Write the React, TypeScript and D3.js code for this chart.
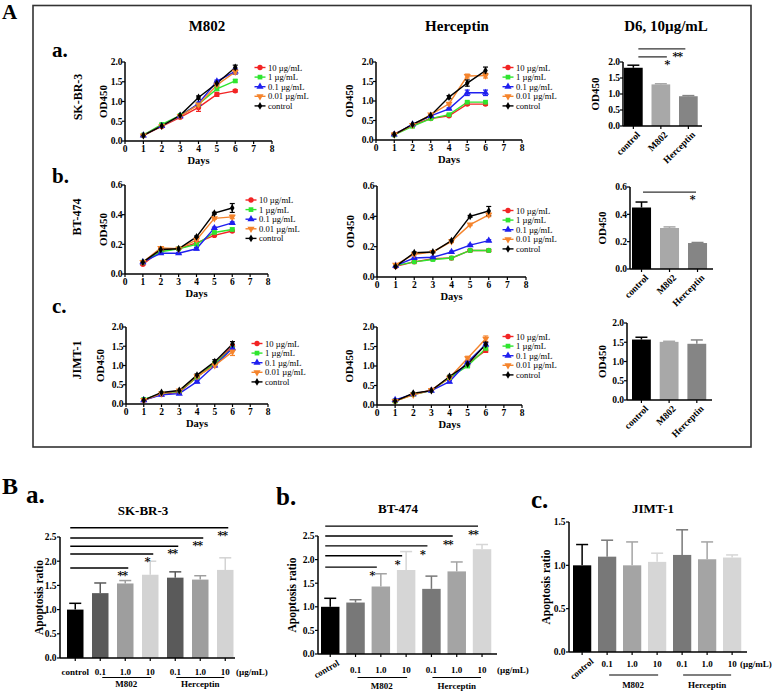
import React from 'react';
import * as d3 from 'd3';

const FONT = "'Liberation Serif', 'Times New Roman', Times, serif";

// ---------- Panel A : proliferation (OD450 vs days) ----------
const days = [1, 2, 3, 4, 5, 6];
const dayTicks = [0, 1, 2, 3, 4, 5, 6, 7, 8];
const doseLabels = ['10 µg/mL', '1 µg/mL', '0.1 µg/mL', '0.01 µg/mL', 'control'];
const doseColors = ['#f22424', '#2fe52f', '#1f1fef', '#f5842c', '#000000'];
const doseSymbols = [d3.symbolCircle, d3.symbolSquare, d3.symbolTriangle, d3.symbolTriangle, d3.symbolDiamond];
const doseSymbolRot = [0, 0, 0, 180, 0];

// order of series: 10, 1, 0.1, 0.01 µg/mL, control
const skbr3M802 = [
  [0.14, 0.37, 0.60, 0.85, 1.18, 1.27],
  [0.15, 0.42, 0.65, 0.93, 1.32, 1.52],
  [0.14, 0.38, 0.63, 0.95, 1.51, 1.76],
  [0.14, 0.38, 0.63, 0.92, 1.42, 1.75],
  [0.14, 0.38, 0.65, 1.10, 1.46, 1.86],
];
const skbr3M802Err = [
  [0.02, 0.02, 0.02, 0.10, 0.05, 0.03],
  [0.02, 0.02, 0.02, 0.03, 0.04, 0.03],
  [0.02, 0.02, 0.02, 0.03, 0.03, 0.07],
  [0.02, 0.02, 0.02, 0.03, 0.04, 0.05],
  [0.02, 0.02, 0.02, 0.04, 0.04, 0.06],
];
const skbr3Her = [
  [0.15, 0.38, 0.55, 0.62, 0.92, 0.92],
  [0.13, 0.35, 0.55, 0.65, 0.97, 0.97],
  [0.14, 0.40, 0.62, 0.80, 1.21, 1.21],
  [0.14, 0.38, 0.65, 0.93, 1.64, 1.65],
  [0.14, 0.40, 0.63, 1.10, 1.46, 1.78],
];
const skbr3HerErr = [
  [0.02, 0.02, 0.02, 0.02, 0.03, 0.03],
  [0.02, 0.02, 0.02, 0.02, 0.03, 0.03],
  [0.02, 0.02, 0.02, 0.02, 0.07, 0.07],
  [0.02, 0.02, 0.02, 0.03, 0.05, 0.06],
  [0.02, 0.02, 0.02, 0.04, 0.08, 0.09],
];
const bt474M802 = [
  [0.065, 0.16, 0.17, 0.21, 0.26, 0.29],
  [0.08, 0.15, 0.17, 0.20, 0.28, 0.30],
  [0.08, 0.14, 0.14, 0.17, 0.31, 0.345],
  [0.08, 0.175, 0.17, 0.23, 0.375, 0.385],
  [0.08, 0.165, 0.17, 0.25, 0.41, 0.445],
];
const bt474M802Err = [
  [0.005, 0.005, 0.005, 0.005, 0.006, 0.006],
  [0.005, 0.005, 0.005, 0.005, 0.008, 0.01],
  [0.005, 0.005, 0.005, 0.008, 0.006, 0.006],
  [0.005, 0.005, 0.005, 0.008, 0.006, 0.012],
  [0.005, 0.005, 0.005, 0.006, 0.006, 0.03],
];
const bt474Her = [
  [0.07, 0.10, 0.12, 0.125, 0.175, 0.175],
  [0.075, 0.10, 0.115, 0.125, 0.175, 0.175],
  [0.075, 0.125, 0.13, 0.165, 0.21, 0.24],
  [0.08, 0.15, 0.165, 0.235, 0.345, 0.41],
  [0.07, 0.16, 0.165, 0.24, 0.40, 0.435],
];
const bt474HerErr = [
  [0.005, 0.005, 0.005, 0.005, 0.006, 0.006],
  [0.005, 0.005, 0.005, 0.005, 0.006, 0.008],
  [0.005, 0.005, 0.005, 0.005, 0.006, 0.006],
  [0.005, 0.005, 0.005, 0.008, 0.006, 0.012],
  [0.005, 0.005, 0.005, 0.006, 0.006, 0.03],
];
const jimtM802 = [
  [0.10, 0.25, 0.30, 0.70, 1.05, 1.50],
  [0.12, 0.27, 0.33, 0.70, 1.05, 1.45],
  [0.10, 0.24, 0.27, 0.58, 1.00, 1.45],
  [0.10, 0.27, 0.35, 0.72, 1.00, 1.36],
  [0.10, 0.30, 0.35, 0.75, 1.10, 1.56],
];
const jimtM802Err = [
  [0.02, 0.02, 0.02, 0.03, 0.04, 0.04],
  [0.02, 0.02, 0.02, 0.03, 0.04, 0.04],
  [0.02, 0.02, 0.02, 0.03, 0.04, 0.05],
  [0.02, 0.02, 0.02, 0.03, 0.04, 0.10],
  [0.02, 0.02, 0.02, 0.03, 0.05, 0.06],
];
const jimtHer = [
  [0.10, 0.28, 0.38, 0.70, 1.05, 1.40],
  [0.10, 0.27, 0.37, 0.70, 1.00, 1.45],
  [0.13, 0.28, 0.37, 0.60, 1.10, 1.55],
  [0.10, 0.26, 0.38, 0.70, 1.20, 1.70],
  [0.10, 0.30, 0.37, 0.73, 1.05, 1.55],
];
const jimtHerErr = [
  [0.02, 0.02, 0.02, 0.03, 0.04, 0.05],
  [0.02, 0.02, 0.02, 0.03, 0.04, 0.04],
  [0.02, 0.02, 0.02, 0.03, 0.04, 0.04],
  [0.02, 0.02, 0.02, 0.03, 0.05, 0.07],
  [0.02, 0.02, 0.02, 0.03, 0.05, 0.06],
];

// D6, 10 µg/mL bars
const d6Cats = ['control', 'M802', 'Herceptin'];
const d6Colors = ['#000000', '#a8a8a8', '#858585'];
const skbr3D6 = [1.82, 1.30, 0.93];
const skbr3D6Err = [0.08, 0.02, 0.02];
const bt474D6 = [0.45, 0.30, 0.19];
const bt474D6Err = [0.04, 0.008, 0.004];
const jimtD6 = [1.57, 1.51, 1.46];
const jimtD6Err = [0.06, 0.015, 0.10];
const yTicks2 = [0, 0.5, 1.0, 1.5, 2.0];
const yTicks06 = [0, 0.2, 0.4, 0.6];

// ---------- Panel B : apoptosis ratio ----------
const apoCats = ['control', 'M0.1', 'M1.0', 'M10', 'H0.1', 'H1.0', 'H10'];
const apoTickLabels = ['control', '0.1', '1.0', '10', '0.1', '1.0', '10'];
const skbr3Apo = [1.00, 1.34, 1.54, 1.72, 1.66, 1.62, 1.82];
const skbr3ApoErr = [0.13, 0.21, 0.06, 0.28, 0.12, 0.08, 0.25];
const bt474Apo = [1.00, 1.09, 1.43, 1.78, 1.38, 1.75, 2.22];
const bt474ApoErr = [0.18, 0.06, 0.27, 0.39, 0.27, 0.20, 0.10];
const jimtApo = [1.00, 1.10, 1.00, 1.04, 1.12, 1.07, 1.09];
const jimtApoErr = [0.24, 0.19, 0.27, 0.10, 0.29, 0.20, 0.03];
const skbr3SigTargets = [6, 5, 4, 3, 2];
const skbr3SigLevels = [2.69, 2.48, 2.31, 2.15, 1.86];
const skbr3SigLabels = ['**', '**', '**', '*', '**'];
const bt474SigTargets = [6, 5, 4, 3, 2];
const bt474SigLevels = [2.71, 2.50, 2.29, 2.08, 1.84];
const bt474SigLabels = ['**', '**', '*', '*', '*'];
const apoTicks25 = [0, 0.5, 1.0, 1.5, 2.0, 2.5];
const apoTicks15 = [0, 0.5, 1.0, 1.5];

const fmt1 = d3.format('.1f');

const Sym = ({ s, cx, cy }: any) => {
  const d = d3.symbol().type(doseSymbols[s]).size(s === 4 ? 18 : 22)() as string;
  return <path d={d} fill={doseColors[s]} transform={`translate(${cx},${cy}) rotate(${doseSymbolRot[s]})`} />;
};

const LineChart = ({ left, right, top, bottom, yMax, yTicks, data, err, ylabelX, legX, legY, legStep = 9.6 }: any) => {
  const x = d3.scaleLinear().domain([0, 8]).range([left, right]);
  const y = d3.scaleLinear().domain([0, yMax]).range([bottom, top]);
  const line = d3.line<number>().x((_, i) => x(days[i])).y((d) => y(d));
  const order = [0, 1, 2, 3, 4];
  return (
    <g fontFamily={FONT}>
      {order.map((s) => (
        <path key={'l' + s} d={line(data[s]) as string} fill="none" stroke={doseColors[s]} strokeWidth={1.4} />
      ))}
      {order.map((s) =>
        data[s].map((v: number, i: number) => {
          const e = err[s][i];
          const cx = x(days[i]);
          return (
            <g key={'e' + s + i} stroke={doseColors[s]} strokeWidth={1.2}>
              <line x1={cx} x2={cx} y1={y(v - e)} y2={y(v + e)} />
              <line x1={cx - 2.5} x2={cx + 2.5} y1={y(v + e)} y2={y(v + e)} />
              <line x1={cx - 2.5} x2={cx + 2.5} y1={y(v - e)} y2={y(v - e)} />
            </g>
          );
        })
      )}
      {order.map((s) => data[s].map((v: number, i: number) => <Sym key={'m' + s + i} s={s} cx={x(days[i])} cy={y(v)} />))}
      <line x1={left} x2={left} y1={top} y2={bottom} stroke="#000" strokeWidth={1.5} />
      <line x1={left} x2={right} y1={bottom} y2={bottom} stroke="#000" strokeWidth={1.5} />
      {yTicks.map((t: number) => (
        <g key={'yt' + t}>
          <line x1={left - 3} x2={left} y1={y(t)} y2={y(t)} stroke="#000" strokeWidth={1.2} />
          <text x={left - 2.5} y={y(t) + 3.3} fontSize={9.5} fontWeight="bold" textAnchor="end">{fmt1(t)}</text>
        </g>
      ))}
      {dayTicks.map((t) => (
        <g key={'xt' + t}>
          <line x1={x(t)} x2={x(t)} y1={bottom} y2={bottom + 3} stroke="#000" strokeWidth={1.2} />
          <text x={x(t)} y={bottom + 10.5} fontSize={9.5} fontWeight="bold" textAnchor="middle">{t}</text>
        </g>
      ))}
      <text x={(left + right) / 2} y={bottom + 23} fontSize={10.5} fontWeight="bold" textAnchor="middle">Days</text>
      <text transform={`translate(${ylabelX},${(top + bottom) / 2}) rotate(-90)`} fontSize={11} fontWeight="bold" textAnchor="middle" dy="0.35em">OD450</text>
      {doseLabels.map((lab, s) => {
        const ly = legY + s * legStep;
        return (
          <g key={'lg' + s}>
            <line x1={legX - 5.5} x2={legX + 5.5} y1={ly} y2={ly} stroke={doseColors[s]} strokeWidth={1.4} />
            <Sym s={s} cx={legX} cy={ly} />
            <text x={legX + 8} y={ly + 3} fontSize={8.6}>{lab}</text>
          </g>
        );
      })}
    </g>
  );
};

const Star = ({ x, y, label }: any) => (
  <text x={x} y={y} fontSize={11} fontWeight="bold" fontFamily="'DejaVu Serif', serif" fill="#000" textAnchor="middle" letterSpacing={-1}>{label}</text>
);

const D6Bar = ({ axisX, right, top, bottom, yMax, yTicks, vals, errs, bandStart, step, ylabelX, sigs = [] }: any) => {
  const pad = 0.32;
  const xb = d3.scaleBand<string>().domain(d6Cats).range([bandStart, bandStart + step * (3 - pad)]).paddingInner(pad).paddingOuter(0);
  const y = d3.scaleLinear().domain([0, yMax]).range([bottom, top]);
  const bw = xb.bandwidth();
  const cx = (i: number) => (xb(d6Cats[i]) as number) + bw / 2;
  return (
    <g fontFamily={FONT}>
      {vals.map((v: number, i: number) => (
        <g key={'b' + i}>
          <rect x={xb(d6Cats[i])} y={y(v)} width={bw} height={bottom - y(v)} fill={d6Colors[i]} />
          <line x1={cx(i)} x2={cx(i)} y1={y(v)} y2={y(v + errs[i])} stroke={d6Colors[i]} strokeWidth={1.5} />
          <line x1={cx(i) - 6} x2={cx(i) + 6} y1={y(v + errs[i])} y2={y(v + errs[i])} stroke={d6Colors[i]} strokeWidth={1.5} />
        </g>
      ))}
      <line x1={axisX} x2={axisX} y1={top} y2={bottom} stroke="#000" strokeWidth={1.5} />
      <line x1={axisX} x2={right} y1={bottom} y2={bottom} stroke="#000" strokeWidth={1.5} />
      {yTicks.map((t: number) => (
        <g key={'yt' + t}>
          <line x1={axisX - 3} x2={axisX} y1={y(t)} y2={y(t)} stroke="#000" strokeWidth={1.2} />
          <text x={axisX - 3} y={y(t) + 3.3} fontSize={9.5} fontWeight="bold" textAnchor="end">{fmt1(t)}</text>
        </g>
      ))}
      {d6Cats.map((c, i) => (
        <g key={'xt' + i}>
          <line x1={cx(i)} x2={cx(i)} y1={bottom} y2={bottom + 3} stroke="#000" strokeWidth={1.2} />
          <text transform={`translate(${cx(i) + 5},${bottom + 7}) rotate(-45)`} fontSize={9.5} fontWeight="bold" textAnchor="end" dy="0.35em">{c}</text>
        </g>
      ))}
      <text transform={`translate(${ylabelX},${(top + bottom) / 2}) rotate(-90)`} fontSize={11} fontWeight="bold" textAnchor="middle" dy="0.35em">OD450</text>
      {sigs.map((sg: any, k: number) => (
        <g key={'sg' + k}>
          <line x1={cx(0) + sg.d0} x2={cx(sg.to) + sg.d1} y1={y(sg.level)} y2={y(sg.level)} stroke="#333" strokeWidth={1.3} />
          <Star x={cx(sg.to) + sg.d1 + sg.ds} y={y(sg.level) + 11} label={sg.label} />
        </g>
      ))}
    </g>
  );
};

const ApoChart = ({ axisX, right, top, bottom, yMax, yTicks, vals, errs, colors, bandStart, step, pad, ylabelX, labelY, ctrlRot, ctrlDx, ctrlDy, unitX, groupLineY, groupLabelY, sigTargets = [], sigLevels = [], sigLabels = [], sigD0 = -5, sigD1 = 0, sigDs = -6, sigDy = 11 }: any) => {
  const xb = d3.scaleBand<string>().domain(apoCats).range([bandStart, bandStart + step * (7 - pad)]).paddingInner(pad).paddingOuter(0);
  const y = d3.scaleLinear().domain([0, yMax]).range([bottom, top]);
  const bw = xb.bandwidth();
  const cx = (i: number) => (xb(apoCats[i]) as number) + bw / 2;
  return (
    <g fontFamily={FONT}>
      {vals.map((v: number, i: number) => (
        <g key={'b' + i}>
          <rect x={xb(apoCats[i])} y={y(v)} width={bw} height={bottom - y(v)} fill={colors[i]} />
          <line x1={cx(i)} x2={cx(i)} y1={y(v)} y2={y(v + errs[i])} stroke={colors[i]} strokeWidth={1.5} />
          <line x1={cx(i) - 6} x2={cx(i) + 6} y1={y(v + errs[i])} y2={y(v + errs[i])} stroke={colors[i]} strokeWidth={1.5} />
        </g>
      ))}
      <line x1={axisX} x2={axisX} y1={top} y2={bottom} stroke="#000" strokeWidth={1.5} />
      <line x1={axisX} x2={right} y1={bottom} y2={bottom} stroke="#000" strokeWidth={1.5} />
      {yTicks.map((t: number) => (
        <g key={'yt' + t}>
          <line x1={axisX - 3} x2={axisX} y1={y(t)} y2={y(t)} stroke="#000" strokeWidth={1.2} />
          <text x={axisX - 3.5} y={y(t) + 3.3} fontSize={9.5} fontWeight="bold" textAnchor="end">{fmt1(t)}</text>
        </g>
      ))}
      {apoTickLabels.map((c, i) => (
        <g key={'xt' + i}>
          <line x1={cx(i)} x2={cx(i)} y1={bottom} y2={bottom + 3} stroke="#000" strokeWidth={1.2} />
          {i === 0 && ctrlRot !== 0 ? (
            <text transform={`translate(${cx(i) + ctrlDx},${bottom + ctrlDy}) rotate(${ctrlRot})`} fontSize={9} fontWeight="bold" textAnchor="end" dy="0.35em">{c}</text>
          ) : (
            <text x={cx(i)} y={labelY} fontSize={9} fontWeight="bold" textAnchor="middle">{c}</text>
          )}
        </g>
      ))}
      <text x={unitX} y={labelY} fontSize={9} fontWeight="bold">(µg/mL)</text>
      <line x1={cx(1) + 2} x2={cx(3) + 1} y1={groupLineY} y2={groupLineY} stroke="#000" strokeWidth={1.2} />
      <line x1={cx(4) + 1} x2={cx(6) - 1} y1={groupLineY} y2={groupLineY} stroke="#000" strokeWidth={1.2} />
      <text x={(cx(1) + cx(3)) / 2 + 1} y={groupLabelY} fontSize={9} fontWeight="bold" textAnchor="middle">M802</text>
      <text x={(cx(4) + cx(6)) / 2} y={groupLabelY} fontSize={9} fontWeight="bold" textAnchor="middle">Herceptin</text>
      <text transform={`translate(${ylabelX},${(top + bottom) / 2}) rotate(-90)`} fontSize={11.5} fontWeight="bold" textAnchor="middle" dy="0.35em">Apoptosis ratio</text>
      {sigTargets.map((t: number, k: number) => (
        <g key={'sg' + k}>
          <line x1={cx(0) + sigD0} x2={cx(t) + sigD1} y1={y(sigLevels[k])} y2={y(sigLevels[k])} stroke="#000" strokeWidth={1.4} />
          <Star x={cx(t) + sigD1 + sigDs} y={y(sigLevels[k]) + sigDy} label={sigLabels[k]} />
        </g>
      ))}
    </g>
  );
};

export default function App() {
  const apoColorsA = ['#000000', '#5a5a5a', '#9e9e9e', '#d3d3d3', '#5a5a5a', '#9e9e9e', '#d3d3d3'];
  const apoColorsB = ['#000000', '#787878', '#a4a4a4', '#d6d6d6', '#787878', '#a4a4a4', '#d6d6d6'];
  return (
    <svg width={778} height={691} style={{ position: 'absolute', left: 0, top: 0, background: '#fff' }} fontFamily={FONT}>
      <rect x={0} y={0} width={778} height={691} fill="#fff" />
      {/* Panel A frame & headers */}
      <rect x={33} y={5.5} width={718} height={441.5} fill="none" stroke="#333" strokeWidth={1.6} />
      <text x={2} y={19} fontSize={21} fontWeight="bold">A</text>
      <text x={207} y={31} fontSize={15} fontWeight="bold" textAnchor="middle">M802</text>
      <text x={457} y={31} fontSize={15} fontWeight="bold" textAnchor="middle">Herceptin</text>
      <text x={666} y={31} fontSize={15} fontWeight="bold" textAnchor="middle">D6, 10µg/mL</text>
      <text x={52} y={57} fontSize={21} fontWeight="bold">a.</text>
      <text x={52} y={183} fontSize={21} fontWeight="bold">b.</text>
      <text x={52} y={313} fontSize={21} fontWeight="bold">c.</text>
      <text transform="translate(78,97) rotate(-90)" fontSize={12} fontWeight="bold" textAnchor="middle" dy="0.35em">SK-BR-3</text>
      <text transform="translate(77,217) rotate(-90)" fontSize={12} fontWeight="bold" textAnchor="middle" dy="0.35em">BT-474</text>
      <text transform="translate(77,360) rotate(-90)" fontSize={12} fontWeight="bold" textAnchor="middle" dy="0.35em">JIMT-1</text>

      <LineChart left={125} right={272} top={62} bottom={141} yMax={2} yTicks={yTicks2} data={skbr3M802} err={skbr3M802Err} ylabelX={103.5} legX={260} legY={67.5} />
      <LineChart left={376} right={522} top={62} bottom={140} yMax={2} yTicks={yTicks2} data={skbr3Her} err={skbr3HerErr} ylabelX={349} legX={508} legY={67.5} />
      <D6Bar axisX={623} right={702} top={62} bottom={126} yMax={2} yTicks={yTicks2} vals={skbr3D6} errs={skbr3D6Err} bandStart={624} step={27.5} ylabelX={595}
        sigs={[{ to: 2, level: 2.41, label: '**', d0: 5, d1: -3, ds: -8 }, { to: 1, level: 2.16, label: '*', d0: 5, d1: 6, ds: 0 }]} />

      <LineChart left={125} right={268} top={185} bottom={274} yMax={0.6} yTicks={yTicks06} data={bt474M802} err={bt474M802Err} ylabelX={103.5} legX={251} legY={200} />
      <LineChart left={377} right={526} top={186} bottom={277} yMax={0.6} yTicks={yTicks06} data={bt474Her} err={bt474HerErr} ylabelX={350} legX={508} legY={210.5} />
      <D6Bar axisX={630} right={713} top={187} bottom={269} yMax={0.6} yTicks={yTicks06} vals={bt474D6} errs={bt474D6Err} bandStart={632} step={28} ylabelX={602}
        sigs={[{ to: 2, level: 0.563, label: '*', d0: 1.5, d1: -1.5, ds: -4 }]} />

      <LineChart left={126} right={268} top={327} bottom={404} yMax={2} yTicks={yTicks2} data={jimtM802} err={jimtM802Err} ylabelX={100} legX={257} legY={343.5} />
      <LineChart left={377} right={522} top={327} bottom={405} yMax={2} yTicks={yTicks2} data={jimtHer} err={jimtHerErr} ylabelX={349} legX={508} legY={336.5} />
      <D6Bar axisX={627} right={712} top={323} bottom={400} yMax={2} yTicks={yTicks2} vals={jimtD6} errs={jimtD6Err} bandStart={632} step={27.7} ylabelX={602} />

      {/* Panel B */}
      <text x={2} y={494} fontSize={24} fontWeight="bold">B</text>
      <text x={26} y={503} fontSize={25} fontWeight="bold">a.</text>
      <text x={276} y={505} fontSize={25} fontWeight="bold">b.</text>
      <text x={531} y={508} fontSize={25} fontWeight="bold">c.</text>
      <text x={143} y={515} fontSize={13} fontWeight="bold" textAnchor="middle">SK-BR-3</text>
      <text x={398} y={513} fontSize={13} fontWeight="bold" textAnchor="middle">BT-474</text>
      <text x={653} y={513} fontSize={13} fontWeight="bold" textAnchor="middle">JIMT-1</text>

      <ApoChart axisX={60} right={235} top={537} bottom={658} yMax={2.5} yTicks={apoTicks25} vals={skbr3Apo} errs={skbr3ApoErr} colors={apoColorsA}
        bandStart={67} step={25} pad={0.34} ylabelX={39} labelY={674.5} ctrlRot={0} ctrlDx={0} ctrlDy={0} unitX={236} groupLineY={677.5} groupLabelY={687}
        sigTargets={skbr3SigTargets} sigLevels={skbr3SigLevels} sigLabels={skbr3SigLabels} sigD0={-5} sigD1={3} sigDs={-6} sigDy={11} />
      <ApoChart axisX={318} right={497} top={536} bottom={654} yMax={2.5} yTicks={apoTicks25} vals={bt474Apo} errs={bt474ApoErr} colors={apoColorsB}
        bandStart={321} step={25.3} pad={0.27} ylabelX={292} labelY={673} ctrlRot={-30} ctrlDx={8} ctrlDy={8} unitX={497} groupLineY={677.5} groupLabelY={688.5}
        sigTargets={bt474SigTargets} sigLevels={bt474SigLevels} sigLabels={bt474SigLabels} sigD0={-5} sigD1={-4} sigDs={-5} sigDy={12} />
      <ApoChart axisX={569} right={747} top={522} bottom={652} yMax={1.5} yTicks={apoTicks15} vals={jimtApo} errs={jimtApoErr} colors={apoColorsB}
        bandStart={573} step={25} pad={0.27} ylabelX={546} labelY={667} ctrlRot={-40} ctrlDx={10} ctrlDy={8} unitX={740} groupLineY={675} groupLabelY={688} />
    </svg>
  );
}
